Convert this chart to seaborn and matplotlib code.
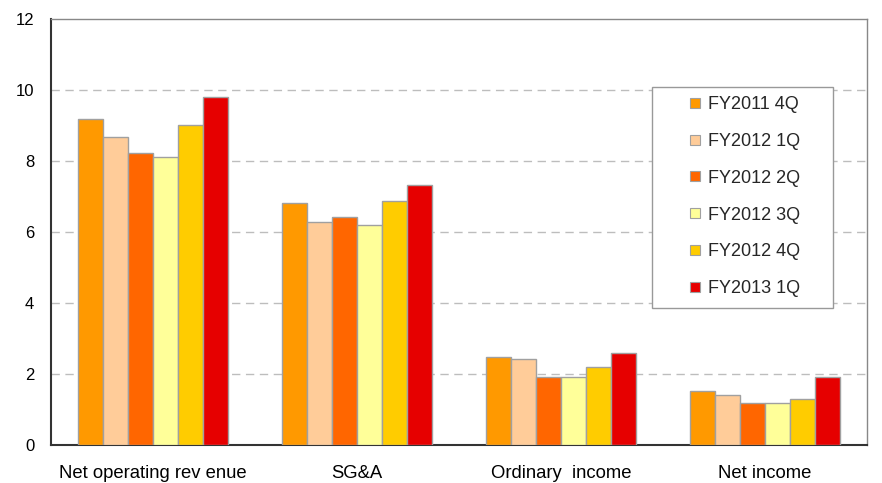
import matplotlib
matplotlib.use("Agg")
import matplotlib.pyplot as plt
import seaborn as sns
import pandas as pd
from matplotlib.lines import Line2D
from matplotlib.patches import Rectangle

categories = ["Net operating rev enue", "SG&A", "Ordinary  income", "Net income"]
periods = ["FY2011 4Q", "FY2012 1Q", "FY2012 2Q", "FY2012 3Q", "FY2012 4Q", "FY2013 1Q"]
fy2011_4q = [9.18, 6.81, 2.47, 1.51]
fy2012_1q = [8.67, 6.29, 2.41, 1.40]
fy2012_2q = [8.22, 6.41, 1.91, 1.17]
fy2012_3q = [8.10, 6.19, 1.91, 1.17]
fy2012_4q = [9.01, 6.86, 2.19, 1.29]
fy2013_1q = [9.79, 7.31, 2.58, 1.91]
colors = ["#FF9900", "#FFCC99", "#FF6600", "#FFFF99", "#FFCC00", "#E60000"]
y_ticks = [0, 2, 4, 6, 8, 10, 12]

series = [fy2011_4q, fy2012_1q, fy2012_2q, fy2012_3q, fy2012_4q, fy2013_1q]
rows = []
for period, vals in zip(periods, series):
    for cat, v in zip(categories, vals):
        rows.append({"category": cat, "period": period, "value": v})
df = pd.DataFrame(rows)

sns.set_style("white")
plt.rcParams["font.family"] = ["Liberation Sans", "DejaVu Sans"]

W, H = 882, 483
fig = plt.figure(figsize=(W / 100, H / 100), dpi=100)
ax_l, ax_r, ax_t, ax_b = 51, 867, 19, 445
ax = fig.add_axes([ax_l / W, 1 - ax_b / H, (ax_r - ax_l) / W, (ax_b - ax_t) / H])


def to_axes(px, py):
    return (px - ax_l) / (ax_r - ax_l), (ax_b - py) / (ax_b - ax_t)


sns.barplot(data=df, x="category", y="value", hue="period", order=categories,
            hue_order=periods, palette=colors, width=0.74, gap=0,
            edgecolor="#A0A0A0", linewidth=1.0, saturation=1, ax=ax,
            legend=False, zorder=3)

ax.set_ylim(0, 12)
ax.set_xlim(-0.5, len(categories) - 0.5)
ax.set_yticks(y_ticks)
ax.set_yticklabels([str(t) for t in y_ticks])
for t in y_ticks[1:-1]:
    ax.axhline(t, color="#BDBDBD", linestyle=(0, (6, 4)), linewidth=1.0, zorder=1)

ax.set_xlabel("")
ax.set_ylabel("")
ax.tick_params(axis="x", which="major", length=0, pad=14.5, labelsize=13.3, colors="black")
ax.tick_params(axis="y", which="major", length=0, pad=12, labelsize=12, colors="black")
ax.set_xticks([0.5, 1.5, 2.5], minor=True)
ax.tick_params(axis="x", which="minor", direction="in", length=5, width=1, color="#333333")

for side in ["left", "bottom"]:
    ax.spines[side].set_color("#333333")
    ax.spines[side].set_linewidth(1.5)
for side in ["top", "right"]:
    ax.spines[side].set_color("#888888")
    ax.spines[side].set_linewidth(1.0)
    ax.spines[side].set_visible(True)

# legend frame drawn as its own box, entries placed inside it
fx0, fy0 = to_axes(652, 308)
fx1, fy1 = to_axes(833, 87)
ax.add_patch(Rectangle((fx0, fy0), fx1 - fx0, fy1 - fy0, transform=ax.transAxes,
                       facecolor="white", edgecolor="#999999", linewidth=1.0,
                       zorder=4, clip_on=False))

handles = [Line2D([0], [0], marker="s", linestyle="none", markersize=7.5,
                  markerfacecolor=c, markeredgecolor="#A0A0A0", markeredgewidth=0.8)
           for c in colors]
leg = ax.legend(handles, periods, loc="upper left",
                bbox_to_anchor=to_axes(688, 96),
                frameon=False, fontsize=13, labelspacing=1.1, handlelength=0.8,
                handletextpad=0.3, borderpad=0, borderaxespad=0)
leg.set_zorder(5)

fig.savefig("out.png", dpi=100)
